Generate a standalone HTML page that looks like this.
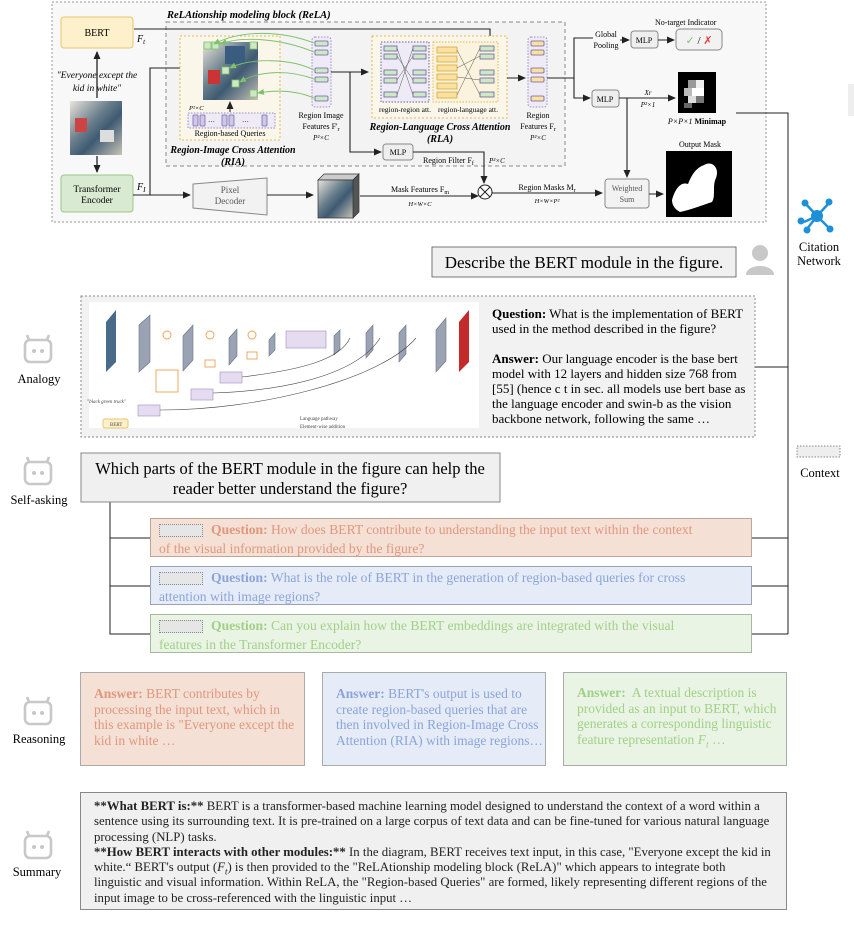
<!DOCTYPE html>
<html><head><meta charset="utf-8"><style>
body{margin:0;width:854px;height:928px;background:#fff;position:relative;overflow:hidden;font-family:"Liberation Serif",serif;color:#222}
.a{position:absolute}
.q{position:absolute;left:150px;width:602px;height:39px;font-size:13.6px;line-height:19px;padding:1px 0 0 8px;box-sizing:border-box;white-space:nowrap}
.q i.d{display:inline-block;width:42px;height:11px;border:1px dotted #888;background:#e6e6e6;vertical-align:middle;margin-right:8px;font-style:normal}
.r{position:absolute;top:672px;height:94px;font-size:13.5px;line-height:15.5px;padding:13px 0 0 13px;box-sizing:border-box;border:1px solid #aaa;white-space:nowrap}
sub{line-height:0;font-size:70%}
</style></head><body>
<svg class="a" style="left:0;top:0" width="854" height="928" viewBox="0 0 854 928" font-family="Liberation Serif, serif">
<defs>
<marker id="ar" markerWidth="8" markerHeight="8" refX="7" refY="4" orient="auto" markerUnits="userSpaceOnUse"><path d="M0,0.5 L8,4 L0,7.5z" fill="#222"/></marker>
<marker id="ag" markerWidth="7" markerHeight="7" refX="6" refY="3.5" orient="auto" markerUnits="userSpaceOnUse"><path d="M0,0.5 L7,3.5 L0,6.5z" fill="#7cc26a"/></marker>
<linearGradient id="ph" x1="0" y1="0" x2="1" y2="1"><stop offset="0" stop-color="#e9e4dc"/><stop offset=".4" stop-color="#6a7f8c"/><stop offset=".6" stop-color="#3e5a72"/><stop offset="1" stop-color="#c8c2b8"/></linearGradient>
</defs>
<rect x="52" y="2" width="714" height="220" fill="#f8f8f8" stroke="#999" stroke-dasharray="2,2"/>
<rect x="166" y="22" width="399" height="144" fill="#f3f3f3" stroke="#888" stroke-dasharray="4,3"/>
<text x="167" y="18" font-size="10.5" font-style="italic" font-weight="bold">ReLAtionship modeling block (ReLA)</text>
<rect x="61" y="17" width="72" height="31" rx="3" fill="#fdf0cb" stroke="#e7c66e"/>
<text x="97" y="36" font-size="10" text-anchor="middle">BERT</text>
<text x="137" y="42" font-size="10" font-style="italic">F<tspan font-size="7" dy="2">t</tspan></text>
<text x="97" y="78" font-size="9.5" font-style="italic" text-anchor="middle">"Everyone except the</text>
<text x="97" y="91" font-size="9.5" font-style="italic" text-anchor="middle">kid in white"</text>
<line x1="97" y1="98" x2="97" y2="52" stroke="#222" stroke-width="1.3" marker-end="url(#ar)"/>
<rect x="70" y="101" width="52" height="54" fill="url(#ph)"/>
<rect x="75" y="118" width="12" height="14" fill="#c44"/><rect x="100" y="130" width="14" height="12" fill="#ddd"/>
<line x1="97" y1="156" x2="97" y2="172" stroke="#222" stroke-width="1.3" marker-end="url(#ar)"/>
<rect x="61" y="175" width="72" height="37" rx="3" fill="#d8ead2" stroke="#9cc58d"/>
<text x="97" y="192" font-size="9.5" text-anchor="middle">Transformer</text>
<text x="97" y="203" font-size="9.5" text-anchor="middle">Encoder</text>
<text x="137" y="190" font-size="10" font-style="italic">F<tspan font-size="7" dy="2">I</tspan></text>
<polyline points="134,29 490,29 490,44" fill="none" stroke="#222" stroke-width="1.1"/>
<line x1="490" y1="40" x2="490" y2="47" stroke="#222" marker-end="url(#ar)"/>
<polyline points="133,195 150,195 150,68 198,68" fill="none" stroke="#222" stroke-width="1.1" marker-end="url(#ar)"/>
<line x1="150" y1="195" x2="190" y2="195" stroke="#222" stroke-width="1.1" marker-end="url(#ar)"/>
<rect x="180" y="36" width="100" height="104" fill="#faf6ea" stroke="#e9b84a" stroke-dasharray="2,2"/>
<rect x="203" y="42" width="55" height="58" fill="url(#ph)"/>
<rect x="208" y="70" width="12" height="14" fill="#c33"/><rect x="225" y="46" width="20" height="18" fill="#3a5c80"/>
<g fill="#cde8c5" stroke="#7cc26a" stroke-width=".8"><rect x="204" y="42" width="7" height="7"/><rect x="212" y="42" width="7" height="7"/><rect x="250" y="42" width="7" height="7"/><rect x="222" y="67" width="7" height="7"/><rect x="232" y="80" width="7" height="7"/><rect x="250" y="90" width="7" height="7"/></g>
<line x1="230" y1="112" x2="230" y2="102" stroke="#222" marker-end="url(#ar)"/>
<rect x="188" y="113" width="87" height="15" fill="#efebf6" stroke="#9b8ec4" stroke-dasharray="1.5,1.5"/>
<g fill="#cfc8e6" stroke="#7a6aae" stroke-width=".8"><rect x="193" y="115" width="5" height="11" rx="1"/><rect x="200" y="115" width="5" height="11" rx="1"/><rect x="222" y="115" width="5" height="11" rx="1"/><rect x="229" y="115" width="5" height="11" rx="1"/><rect x="262" y="115" width="5" height="11" rx="1"/></g>
<text x="208" y="124" font-size="7">···</text><text x="242" y="124" font-size="7">···</text>
<text x="189" y="110" font-size="6.5" font-style="italic">P²×C</text>
<text x="230" y="136" font-size="8" text-anchor="middle">Region-based Queries</text>
<text x="233" y="153" font-size="10" font-style="italic" font-weight="bold" text-anchor="middle">Region-Image Cross Attention</text>
<text x="233" y="165" font-size="10" font-style="italic" font-weight="bold" text-anchor="middle">(RIA)</text>
<rect x="312" y="37" width="19" height="70" rx="3" fill="#efebf6" stroke="#9b8ec4" stroke-dasharray="1.5,1.5"/>
<g fill="#cde8c5" stroke="#6b5fa0" stroke-width=".8"><rect x="315" y="41" width="13" height="5" rx="1"/><rect x="315" y="50" width="13" height="5" rx="1"/><rect x="315" y="68" width="13" height="5" rx="1"/><rect x="315" y="77" width="13" height="5" rx="1"/><rect x="315" y="96" width="13" height="5" rx="1"/></g>
<g fill="none" stroke="#7cc26a" stroke-width=".9"><path d="M314,43 C280,30 240,30 214,44" marker-end="url(#ag)"/><path d="M314,52 C280,38 240,36 221,44" marker-end="url(#ag)"/><path d="M314,70 C290,58 250,58 230,68" marker-end="url(#ag)"/><path d="M314,79 C290,70 260,70 240,82" marker-end="url(#ag)"/><path d="M314,98 C295,90 275,90 258,93" marker-end="url(#ag)"/></g>
<text x="321" y="118" font-size="8" text-anchor="middle">Region Image</text>
<text x="321" y="129" font-size="8" text-anchor="middle">Features F'<tspan font-size="6" dy="2">r</tspan></text>
<text x="321" y="140" font-size="7" font-style="italic" text-anchor="middle">P²×C</text>
<polyline points="331,72 368,72" stroke="#222" fill="none" stroke-width="1.1" marker-end="url(#ar)"/>
<polyline points="350,72 350,152 381,152" stroke="#222" fill="none" stroke-width="1.1" marker-end="url(#ar)"/>
<rect x="372" y="36" width="135" height="82" fill="#faf6ea" stroke="#e9b84a" stroke-dasharray="2,2"/>
<rect x="381" y="42" width="48" height="60" fill="#efebf6" stroke="#6b5fa0" stroke-dasharray="1.5,1.5"/>
<rect x="433" y="42" width="65" height="60" fill="#fbf3dd" stroke="#e9b84a" stroke-dasharray="1.5,1.5"/>
<g fill="#cde8c5" stroke="#6b5fa0" stroke-width=".8"><rect x="384" y="46" width="13" height="5"/><rect x="384" y="54" width="13" height="5"/><rect x="384" y="70" width="13" height="5"/><rect x="384" y="78" width="13" height="5"/><rect x="384" y="92" width="13" height="5"/><rect x="413" y="46" width="13" height="5"/><rect x="413" y="54" width="13" height="5"/><rect x="413" y="70" width="13" height="5"/><rect x="413" y="78" width="13" height="5"/><rect x="413" y="92" width="13" height="5"/><rect x="480" y="46" width="14" height="5"/><rect x="480" y="54" width="14" height="5"/><rect x="480" y="70" width="14" height="5"/><rect x="480" y="78" width="14" height="5"/><rect x="480" y="92" width="14" height="5"/></g>
<g fill="#fbe1a0" stroke="#d4a93a" stroke-width=".8"><rect x="437" y="47" width="20" height="6"/><rect x="437" y="56" width="20" height="6"/><rect x="437" y="65" width="20" height="6"/><rect x="437" y="74" width="20" height="6"/><rect x="437" y="83" width="20" height="6"/><rect x="437" y="92" width="20" height="6"/></g>
<g stroke="#555" stroke-width=".5"><line x1="397" y1="48" x2="413" y2="95"/><line x1="397" y1="95" x2="413" y2="48"/><line x1="397" y1="56" x2="413" y2="80"/><line x1="397" y1="80" x2="413" y2="56"/><line x1="457" y1="50" x2="480" y2="95"/><line x1="457" y1="95" x2="480" y2="48"/><line x1="457" y1="68" x2="480" y2="56"/><line x1="457" y1="77" x2="480" y2="80"/></g>
<text x="405" y="112" font-size="7.5" text-anchor="middle">region-region att.</text>
<text x="468" y="112" font-size="7.5" text-anchor="middle">region-language att.</text>
<text x="440" y="130" font-size="10" font-style="italic" font-weight="bold" text-anchor="middle">Region-Language Cross Attention</text>
<text x="440" y="142" font-size="10" font-style="italic" font-weight="bold" text-anchor="middle">(RLA)</text>
<line x1="507" y1="78" x2="525" y2="78" stroke="#222" stroke-width="1.1" marker-end="url(#ar)"/>
<rect x="528" y="37" width="19" height="70" rx="3" fill="#efebf6" stroke="#9b8ec4" stroke-dasharray="1.5,1.5"/>
<g fill="#fbe1a0" stroke="#6b5fa0" stroke-width=".8"><rect x="531" y="41" width="13" height="5" rx="1"/><rect x="531" y="50" width="13" height="5" rx="1"/><rect x="531" y="68" width="13" height="5" rx="1"/><rect x="531" y="77" width="13" height="5" rx="1"/><rect x="531" y="96" width="13" height="5" rx="1"/></g>
<text x="538" y="118" font-size="8" text-anchor="middle">Region</text>
<text x="538" y="129" font-size="8" text-anchor="middle">Features F<tspan font-size="6" dy="2">r</tspan></text>
<text x="538" y="140" font-size="7" font-style="italic" text-anchor="middle">P²×C</text>
<rect x="383" y="144" width="30" height="16" rx="3" fill="#eee" stroke="#888"/>
<text x="398" y="155" font-size="8" text-anchor="middle">MLP</text>
<text x="423" y="163" font-size="8">Region Filter F<tspan font-size="6" dy="2">f</tspan></text>
<text x="489" y="163" font-size="7" font-style="italic">P²×C</text>
<polyline points="413,152 484,152 484,183" fill="none" stroke="#222" stroke-width="1.1" marker-end="url(#ar)"/>
<polyline points="547,78 574,78 574,38 593,38" fill="none" stroke="#222" stroke-width="1.1"/>
<polyline points="574,78 574,98 590,98" fill="none" stroke="#222" stroke-width="1.1" marker-end="url(#ar)"/>
<text x="606" y="37" font-size="8" text-anchor="middle">Global</text>
<text x="606" y="48" font-size="8" text-anchor="middle">Pooling</text>
<line x1="620" y1="40" x2="629" y2="40" stroke="#222" marker-end="url(#ar)"/>
<rect x="631" y="31" width="27" height="17" rx="3" fill="#eee" stroke="#888"/>
<text x="644" y="43" font-size="8" text-anchor="middle">MLP</text>
<line x1="658" y1="40" x2="674" y2="40" stroke="#222" marker-end="url(#ar)"/>
<rect x="676" y="29" width="46" height="21" rx="4" fill="#f2f2f2" stroke="#888"/>
<text x="699" y="44" font-size="11" text-anchor="middle"><tspan fill="#7cc26a">✓</tspan> / <tspan fill="#e0403a">✗</tspan></text>
<text x="655" y="25" font-size="8">No-target Indicator</text>
<rect x="592" y="90" width="27" height="17" rx="3" fill="#eee" stroke="#888"/>
<text x="605" y="102" font-size="8" text-anchor="middle">MLP</text>
<line x1="619" y1="98" x2="675" y2="98" stroke="#222" stroke-width="1.1" marker-end="url(#ar)"/>
<text x="648" y="95" font-size="7" font-style="italic" text-anchor="middle">Xr</text>
<text x="648" y="107" font-size="7" font-style="italic" text-anchor="middle">P²×1</text>
<rect x="678" y="72" width="38" height="41" fill="#000"/>
<g><rect x="688" y="80" width="8" height="8" fill="#999"/><rect x="696" y="80" width="8" height="8" fill="#eee"/><rect x="684" y="88" width="8" height="8" fill="#bbb"/><rect x="692" y="88" width="12" height="8" fill="#fff"/><rect x="688" y="96" width="8" height="7" fill="#ddd"/><rect x="696" y="96" width="8" height="7" fill="#777"/><rect x="684" y="103" width="8" height="5" fill="#666"/></g>
<text x="697" y="124" font-size="8" text-anchor="middle"><tspan font-style="italic">P×P×1</tspan> <tspan font-weight="bold">Minimap</tspan></text>
<line x1="627" y1="98" x2="627" y2="177" stroke="#222" stroke-width="1.1" marker-end="url(#ar)"/>
<polygon points="193,184 267,178 267,215 193,208" fill="#f2f2f2" stroke="#888"/>
<text x="230" y="193" font-size="9" text-anchor="middle" fill="#555">Pixel</text>
<text x="230" y="204" font-size="9" text-anchor="middle" fill="#555">Decoder</text>
<line x1="267" y1="195" x2="313" y2="195" stroke="#222" stroke-width="1.1" marker-end="url(#ar)"/>
<polygon points="318,180 324,174 359,174 353,180" fill="#ccc" stroke="#333" stroke-width=".7"/>
<polygon points="353,180 359,174 359,212 353,218" fill="#555" stroke="#333" stroke-width=".7"/>
<rect x="318" y="180" width="35" height="38" fill="url(#ph)" stroke="#333" stroke-width=".7"/>
<line x1="360" y1="196" x2="478" y2="196" stroke="#222" stroke-width="1.1" marker-end="url(#ar)"/>
<text x="420" y="192" font-size="8" text-anchor="middle">Mask Features F<tspan font-size="6" dy="2">m</tspan></text>
<text x="420" y="206" font-size="6.5" font-style="italic" text-anchor="middle">H×W×C</text>
<circle cx="485" cy="192" r="7" fill="#fff" stroke="#222"/>
<path d="M480,187 L490,197 M490,187 L480,197" stroke="#222"/>
<line x1="492" y1="193" x2="602" y2="193" stroke="#222" stroke-width="1.1" marker-end="url(#ar)"/>
<text x="547" y="190" font-size="8" text-anchor="middle">Region Masks M<tspan font-size="6" dy="2">r</tspan></text>
<text x="547" y="203" font-size="6.5" font-style="italic" text-anchor="middle">H×W×P²</text>
<rect x="605" y="179" width="44" height="29" rx="3" fill="#f2f2f2" stroke="#888"/>
<text x="627" y="191" font-size="8" text-anchor="middle" fill="#555">Weighted</text>
<text x="627" y="202" font-size="8" text-anchor="middle" fill="#555">Sum</text>
<line x1="649" y1="194" x2="663" y2="194" stroke="#222" marker-end="url(#ar)"/>
<text x="700" y="147" font-size="8" text-anchor="middle">Output Mask</text>
<rect x="666" y="151" width="66" height="66" fill="#000"/>
<path d="M672,200 C676,186 682,182 688,184 C692,174 696,168 704,165 C712,160 720,168 716,178 C712,186 716,196 712,202 C700,206 690,210 680,212 C676,210 672,206 672,200Z" fill="#fff"/>
<polyline points="736,113 788,113 788,634" fill="none" stroke="#222" stroke-width="1"/>
<line x1="755" y1="367" x2="788" y2="367" stroke="#222"/>
<line x1="752" y1="538" x2="788" y2="538" stroke="#222"/>
<line x1="752" y1="586" x2="788" y2="586" stroke="#222"/>
<line x1="752" y1="634" x2="788" y2="634" stroke="#222"/>
<polyline points="110,502 110,634 150,634" fill="none" stroke="#222"/>
<line x1="110" y1="538" x2="150" y2="538" stroke="#222"/>
<line x1="110" y1="586" x2="150" y2="586" stroke="#222"/>
<rect x="848" y="84" width="6" height="32" fill="#eee"/>
<g stroke="#1e90d8" stroke-width="2.5"><line x1="817" y1="216" x2="805" y2="203"/><line x1="817" y1="216" x2="829" y2="203"/><line x1="817" y1="216" x2="804" y2="222"/><line x1="817" y1="216" x2="807" y2="229"/><line x1="817" y1="216" x2="829" y2="228"/></g>
<g fill="#1e90d8"><circle cx="817" cy="216" r="6"/><circle cx="805" cy="203" r="3.5"/><circle cx="829" cy="202" r="3.5"/><circle cx="801" cy="221" r="3.5"/><circle cx="807" cy="230" r="3.5"/><circle cx="830" cy="229" r="3.5"/></g>
<text x="819" y="251" font-size="12.5" text-anchor="middle">Citation</text>
<text x="819" y="265" font-size="12.5" text-anchor="middle">Network</text>
<rect x="797" y="446" width="43" height="11" fill="#eee" stroke="#888" stroke-dasharray="1.5,1.5"/>
<text x="820" y="477" font-size="12.5" text-anchor="middle">Context</text>
<circle cx="760" cy="253" r="8" fill="#c8c8c8"/><path d="M746,275 C746,263 774,263 774,275Z" fill="#c8c8c8"/>
<g id="rb" fill="none" stroke="#c8c8c8" stroke-width="2.6"><rect x="25" y="340" width="26" height="22" rx="5"/><line x1="29" y1="340" x2="27" y2="335"/><line x1="47" y1="340" x2="49" y2="335"/></g>
<g fill="#c8c8c8"><circle cx="34" cy="351" r="2"/><circle cx="42" cy="351" r="2"/></g>
<use href="#rb" y="122"/><use href="#rb" y="362"/><use href="#rb" y="496"/>
<g fill="#c8c8c8"><circle cx="34" cy="473" r="2"/><circle cx="42" cy="473" r="2"/><circle cx="34" cy="713" r="2"/><circle cx="42" cy="713" r="2"/><circle cx="34" cy="847" r="2"/><circle cx="42" cy="847" r="2"/></g>
<g font-size="12.5" text-anchor="middle"><text x="39" y="383">Analogy</text><text x="39" y="504">Self-asking</text><text x="39" y="743">Reasoning</text><text x="37" y="876">Summary</text></g>
<rect x="81" y="296" width="674" height="141" fill="#f2f2f2" stroke="#888" stroke-dasharray="2,2"/>
<rect x="89" y="302" width="390" height="126" fill="#fff"/>
<g fill="#9aa3b3" stroke="#6b7484" stroke-width=".6">
<polygon points="139,325 150,315 150,362 139,372"/><polygon points="183,336 193,325 193,360 183,371"/><polygon points="229,338 237,329 237,356 229,365"/><polygon points="269,340 275,333 275,350 269,356"/><polygon points="334,336 340,330 340,349 334,355"/><polygon points="366,333 373,325 373,350 366,358"/><polygon points="399,333 406,325 406,354 399,362"/><polygon points="436,330 446,318 446,361 436,372"/></g>
<polygon points="106,322 116,310 116,362 106,372" fill="#4a6a8a"/><polygon points="459,322 469,310 469,362 459,372" fill="#c42a2a"/>
<rect x="286" y="331" width="40" height="17" fill="#e6dcf0" stroke="#a08cc0" stroke-width=".6"/>
<g fill="none" stroke="#f0a050" stroke-width=".9"><circle cx="167" cy="335" r="4"/><circle cx="210" cy="335" r="4"/><circle cx="252" cy="335" r="4"/><rect x="156" y="370" width="22" height="22"/><rect x="205" y="360" width="10" height="7"/><rect x="247" y="352" width="10" height="7"/></g>
<g fill="#e6dcf0" stroke="#a08cc0" stroke-width=".6"><rect x="138" y="405" width="22" height="11"/><rect x="191" y="389" width="22" height="11"/><rect x="220" y="372" width="22" height="11"/></g>
<rect x="103" y="419" width="25" height="9" rx="2" fill="#fdf0cb" stroke="#e7c66e"/>
<g fill="none" stroke="#444" stroke-width=".6"><path d="M160,410 C260,410 380,380 416,338"/><path d="M213,393 C300,390 360,370 380,338"/><path d="M242,377 C300,370 340,360 350,338"/></g>
<g font-size="5" fill="#444"><text x="87" y="403" font-style="italic">"black green truck"</text><text x="110" y="426">BERT</text><text x="300" y="420">Language pathway</text><text x="300" y="428">Element-wise addition</text></g>
<text font-size="13" x="492" y="318"><tspan font-weight="bold">Question:</tspan> What is the implementation of BERT</text>
<text font-size="13" x="492" y="333">used in the method described in the figure?</text>
<text font-size="13" x="492" y="363"><tspan font-weight="bold">Answer:</tspan> Our language encoder is the base bert</text>
<text font-size="13" x="492" y="378">model with 12 layers and hidden size 768 from</text>
<text font-size="13" x="492" y="393">[55] (hence c t in sec. all models use bert base as</text>
<text font-size="13" x="492" y="408">the language encoder and swin-b as the vision</text>
<text font-size="13" x="492" y="423">backbone network, following the same …</text>
<rect x="432" y="247" width="304" height="30" fill="#f0f0f0" stroke="#777"/>
<text x="584" y="268" font-size="17" text-anchor="middle">Describe the BERT module in the figure.</text>
<rect x="81" y="453" width="419" height="49" fill="#f0f0f0" stroke="#888"/>
<text x="290" y="474" font-size="16.5" text-anchor="middle">Which parts of the BERT module in the figure can help the</text>
<text x="290" y="494" font-size="16.5" text-anchor="middle">reader better understand the figure?</text>
</svg>
<div class="q" style="top:518px;background:#f5e0d6;border:1px solid #bfa597;color:#e0977c"><i class="d"></i><b>Question:</b> How does BERT contribute to understanding the input text within the context<br>of the visual information provided by the figure?</div>
<div class="q" style="top:566px;background:#e6ecf7;border:1px solid #9aa2b4;color:#8aa4da"><i class="d"></i><b>Question:</b> What is the role of BERT in the generation of region-based queries for cross<br>attention with image regions?</div>
<div class="q" style="top:614px;background:#eaf4e4;border:1px solid #a8b8a0;color:#a0d088"><i class="d"></i><b>Question:</b> Can you explain how the BERT embeddings are integrated with the visual<br>features in the Transformer Encoder?</div>
<div class="r" style="left:80px;width:225px;background:#f5e0d6;color:#e0977c"><b>Answer:</b> BERT contributes by<br>processing the input text, which in<br>this example is "Everyone except the<br>kid in white …</div>
<div class="r" style="left:322px;width:224px;background:#e6ecf7;color:#8aa4da"><b>Answer:</b> BERT's output is used to<br>create region-based queries that are<br>then involved in Region-Image Cross<br>Attention (RIA) with image regions…</div>
<div class="r" style="left:563px;width:224px;background:#eaf4e4;color:#a0d088;padding-top:12px"><b>Answer:</b>&nbsp; A textual description is<br>provided as an input to BERT, which<br>generates a corresponding linguistic<br>feature representation <i>F<sub>t</sub></i> …</div>
<div class="a" style="left:80px;top:792px;width:707px;height:118px;background:#f0f0f0;border:1px solid #888;box-sizing:border-box;padding:6px 0 0 13px;font-size:12.8px;line-height:15.3px;white-space:nowrap"><b>**What BERT is:**</b> BERT is a transformer-based machine learning model designed to understand the context of a word within a<br>sentence using its surrounding text. It is pre-trained on a large corpus of text data and can be fine-tuned for various natural language<br>processing (NLP) tasks.<br><b>**How BERT interacts with other modules:**</b> In the diagram, BERT receives text input, in this case, "Everyone except the kid in<br>white.“ BERT's output (<i>F<sub>t</sub></i>) is then provided to the "ReLAtionship modeling block (ReLA)" which appears to integrate both<br>linguistic and visual information. Within ReLA, the "Region-based Queries" are formed, likely representing different regions of the<br>input image to be cross-referenced with the linguistic input …</div>
</body></html>
